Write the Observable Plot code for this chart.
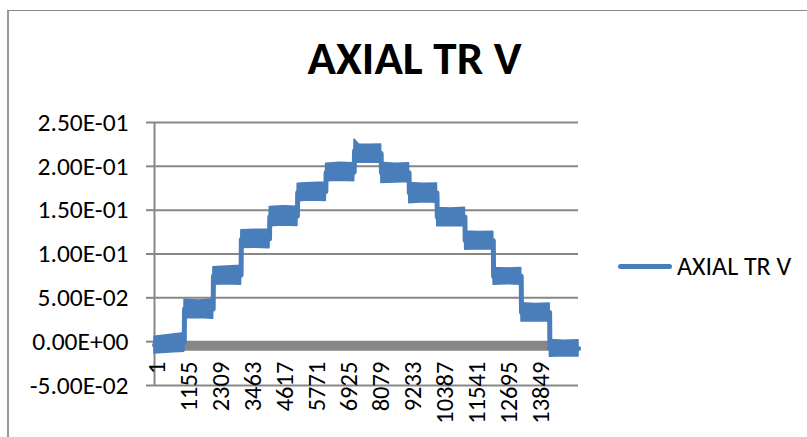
<!DOCTYPE html>
<html>
<head>
<meta charset="utf-8">
<script src="https://cdn.jsdelivr.net/npm/d3@7"></script>
<script src="https://cdn.jsdelivr.net/npm/@observablehq/plot@0.6"></script>
<style>
  html, body { margin: 0; padding: 0; background: #fff; }
  #wrap { position: relative; width: 807px; height: 437px; overflow: hidden; font-family: Carlito, Lato, "Liberation Sans", sans-serif; }
  #chart { position: absolute; left: 0; top: 0; }
  .border-left { position: absolute; left: 7px; top: 10px; width: 2px; height: 440px; background: #9a9a9a; }
  .border-top { position: absolute; left: 7px; top: 10px; width: 810px; height: 1px; background: #8a8a8a; }
  #title { position: absolute; left: 0; width: 829px; top: 35px; text-align: center; font-weight: bold; font-size: 47px; line-height: 47px; color: #000; white-space: nowrap; }
  #legend { position: absolute; left: 618px; top: 253px; height: 26px; display: flex; align-items: center; }
  #legend .swatch { width: 54px; height: 5px; border-radius: 3px; background: #4a7ebb; margin-right: 5px; }
  #legend .label { font-size: 26px; line-height: 26px; color: #000; white-space: nowrap; }
</style>
</head>
<body>
<div id="wrap">
  <div class="border-left"></div>
  <div class="border-top"></div>
  <div id="chart"></div>
  <div id="title">AXIAL TR V</div>
  <div id="legend"><div class="swatch"></div><div class="label">AXIAL TR V</div></div>
</div>
<script>
// Series name
const seriesName = "AXIAL TR V";

// Sample point index (row number in the sheet) along the trace
const stepIndex = [
  1, 540, 1075,
  1085, 1600, 2118,
  2128, 2620, 3125,
  3135, 3640, 4151,
  4161, 4660, 5158,
  5168, 5670, 6183,
  6193, 6700, 7208,
  7218, 7380, 7700, 8179,
  8189, 8690, 9186,
  9196, 9700, 10194,
  10204, 10700, 11201,
  11211, 11720, 12226,
  12236, 12730, 13233,
  13243, 13750, 14258,
  14268, 14780, 15300
];
// Lower edge of the noisy trace at each sample
const bandLow = [
  -0.0134, -0.0125, -0.0114,
  0.0267, 0.0270, 0.0262,
  0.0648, 0.0655, 0.0650,
  0.1068, 0.1072, 0.1065,
  0.1316, 0.1325, 0.1320,
  0.1602, 0.1610, 0.1605,
  0.1830, 0.1835, 0.1830,
  0.2040, 0.2045, 0.2040, 0.2045,
  0.1810, 0.1815, 0.1820,
  0.1580, 0.1590, 0.1585,
  0.1316, 0.1320, 0.1316,
  0.1049, 0.1055, 0.1050,
  0.0649, 0.0655, 0.0650,
  0.0229, 0.0232, 0.0229,
  -0.0172, -0.0165, -0.0170
];
// Upper edge of the noisy trace at each sample
const bandHigh = [
  0.0057, 0.0075, 0.0095,
  0.0477, 0.0470, 0.0480,
  0.0850, 0.0858, 0.0865,
  0.1270, 0.1278, 0.1280,
  0.1535, 0.1544, 0.1540,
  0.1800, 0.1811, 0.1815,
  0.2030, 0.2040, 0.2035,
  0.2307, 0.2250, 0.2245, 0.2250,
  0.2040, 0.2030, 0.2035,
  0.1810, 0.1800, 0.1805,
  0.1525, 0.1520, 0.1528,
  0.1258, 0.1250, 0.1255,
  0.0839, 0.0835, 0.0840,
  0.0438, 0.0430, 0.0435,
  0.0019, 0.0010, 0.0015
];

// Axis ticks and labels
const xTicks = [1, 1155, 2309, 3463, 4617, 5771, 6925, 8079, 9233, 10387, 11541, 12695, 13849];
const xTickLabels = ["1", "1155", "2309", "3463", "4617", "5771", "6925", "8079", "9233", "10387", "11541", "12695", "13849"];
const yTicks = [-0.05, 0, 0.05, 0.10, 0.15, 0.20, 0.25];
const yTickLabels = ["-5.00E-02", "0.00E+00", "5.00E-02", "1.00E-01", "1.50E-01", "2.00E-01", "2.50E-01"];

const blue = "#4a7ebb";
const gray = "#878787";
const font = "Carlito, Lato, 'Liberation Sans', sans-serif";

const table = stepIndex.map((i, k) => ({
  i, lo: bandLow[k], hi: bandHigh[k], mid: (bandLow[k] + bandHigh[k]) / 2
}));
const xTable = xTicks.map((t, k) => ({ t, label: xTickLabels[k], base: 0 }));

const chart = Plot.plot({
  width: 807,
  height: 437,
  marginLeft: 154,
  marginRight: 229,
  marginTop: 122,
  marginBottom: 52,
  style: { fontFamily: font, fontSize: "25px", color: "#000", background: "transparent", overflow: "visible" },
  x: { domain: d3.extent(stepIndex) },
  y: { domain: [yTicks[0], yTicks[yTicks.length - 1]] },
  marks: [
    Plot.gridY(yTicks, { stroke: gray, strokeOpacity: 1, strokeWidth: 2 }),
    Plot.ruleX([d3.min(stepIndex)], { stroke: gray, strokeWidth: 2 }),
    Plot.axisY({
      ticks: yTicks,
      tickFormat: d => yTickLabels[yTicks.indexOf(d)],
      tickSize: 8,
      tickPadding: 18,
      stroke: gray,
      strokeWidth: 2,
      fill: "#000",
      fontSize: 25.5,
      label: null
    }),
    Plot.axisX({ ticks: [], label: null, tickSize: 0 }),
    Plot.ruleY([0], { stroke: gray, strokeWidth: 9, dy: 4.5 }),
    Plot.areaY(table, { x: "i", y1: "lo", y2: "hi", fill: blue, stroke: blue, strokeWidth: 1.5, strokeLinejoin: "round" }),
    Plot.lineY(table, { x: "i", y: "mid", stroke: blue, strokeWidth: 5, strokeLinecap: "round", strokeLinejoin: "round" }),
    Plot.text(xTable, {
      x: "t", y: "base", text: "label",
      rotate: -90, textAnchor: "end", lineAnchor: "middle",
      dy: 20, dx: 3, fontSize: 24.5, fill: "#000"
    })
  ]
});
document.getElementById("chart").appendChild(chart);
</script>
</body>
</html>
